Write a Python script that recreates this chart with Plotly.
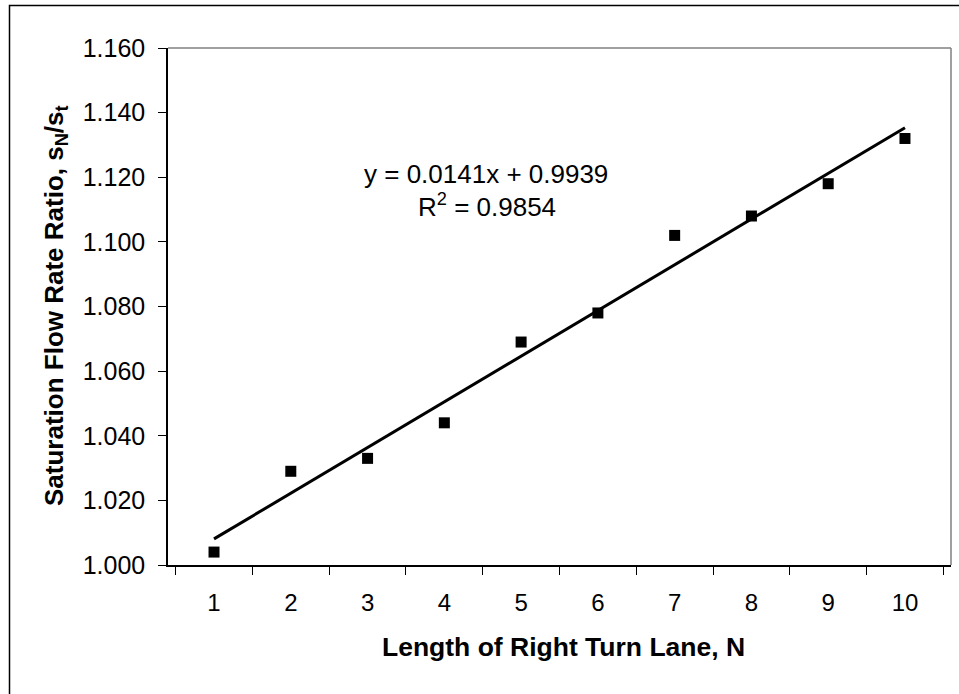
import numpy as np
import plotly.graph_objects as go

# Data
lane_length = [1, 2, 3, 4, 5, 6, 7, 8, 9, 10]
flow_ratio = [1.004, 1.029, 1.033, 1.044, 1.069, 1.078, 1.102, 1.108, 1.118, 1.132]
y_ticks = [1.000, 1.020, 1.040, 1.060, 1.080, 1.100, 1.120, 1.140, 1.160]
eq_text = "y = 0.0141x + 0.9939"
r2_text = "R<sup>2</sup> = 0.9854"

cats = [str(v) for v in lane_length]
slope, intercept = np.polyfit(lane_length, flow_ratio, 1)
trend_x = [cats[0], cats[-1]]
trend_y = [slope * lane_length[0] + intercept, slope * lane_length[-1] + intercept]

W, H = 959, 694
L, R, T, B = 168, 8, 48, 129
pw, ph = W - L - R, H - T - B

def px(x):
    return (x - L) / pw

def py(y):
    return (H - B - y) / ph

FONT = "Liberation Sans, Arial, sans-serif"

fig = go.Figure()
fig.add_trace(go.Scatter(x=cats, y=flow_ratio, mode="markers",
                         marker=dict(symbol="square", size=11, color="black")))
fig.add_trace(go.Scatter(x=trend_x, y=trend_y, mode="lines",
                         line=dict(color="black", width=3), hoverinfo="skip"))

fig.update_layout(
    width=W, height=H,
    margin=dict(l=L, r=R, t=T, b=B, autoexpand=False),
    paper_bgcolor="white", plot_bgcolor="white",
    showlegend=False,
    font=dict(family=FONT, size=24, color="black"),
    xaxis=dict(type="category", categoryorder="array", categoryarray=cats,
               tickson="boundaries", ticks="outside", ticklen=8, automargin=False,
               tickcolor="black", showline=True, linecolor="black", linewidth=1.5,
               showgrid=False, zeroline=False, ticklabelstandoff=15,
               tickfont=dict(size=24)),
    yaxis=dict(range=[1.0, 1.16], tickvals=y_ticks, tickformat=".3f", ticks="outside",
               ticklen=8, tickcolor="black", showline=True, linecolor="black",
               linewidth=1.5, showgrid=False, zeroline=False, ticklabelstandoff=8,
               automargin=False, tickfont=dict(size=25)),
)

# plot-area border (top and right, gray)
fig.add_shape(type="line", xref="paper", yref="paper", x0=0, x1=1, y0=1, y1=1,
              line=dict(color="#808080", width=1.5))
fig.add_shape(type="line", xref="paper", yref="paper", x0=1, x1=1, y0=0, y1=1,
              line=dict(color="#808080", width=1.5))
# outer chart border
fig.add_shape(type="rect", xref="paper", yref="paper",
              x0=px(9.5), x1=px(975), y0=py(5.5), y1=py(720),
              line=dict(color="black", width=1.5))

fig.add_annotation(xref="paper", yref="paper", x=px(486), y=py(174),
                   xanchor="center", yanchor="middle",
                   text=eq_text, showarrow=False, font=dict(size=26))
fig.add_annotation(xref="paper", yref="paper", x=px(487), y=py(205),
                   xanchor="center", yanchor="middle",
                   text=r2_text, showarrow=False, font=dict(size=26))
fig.add_annotation(xref="paper", yref="paper", x=px(563), y=py(647),
                   xanchor="center", yanchor="middle",
                   text="<b>Length of Right Turn Lane, N</b>", showarrow=False,
                   font=dict(size=26.5))
fig.add_annotation(xref="paper", yref="paper", x=px(55), y=py(306), textangle=-90,
                   xanchor="center", yanchor="middle",
                   text="<b>Saturation Flow Rate Ratio, s<sub>N</sub>/s<sub>t</sub></b>",
                   showarrow=False, font=dict(size=26))

fig.write_html("out.html", config={"displayModeBar": False},
               post_script="document.body.style.margin='0';")
